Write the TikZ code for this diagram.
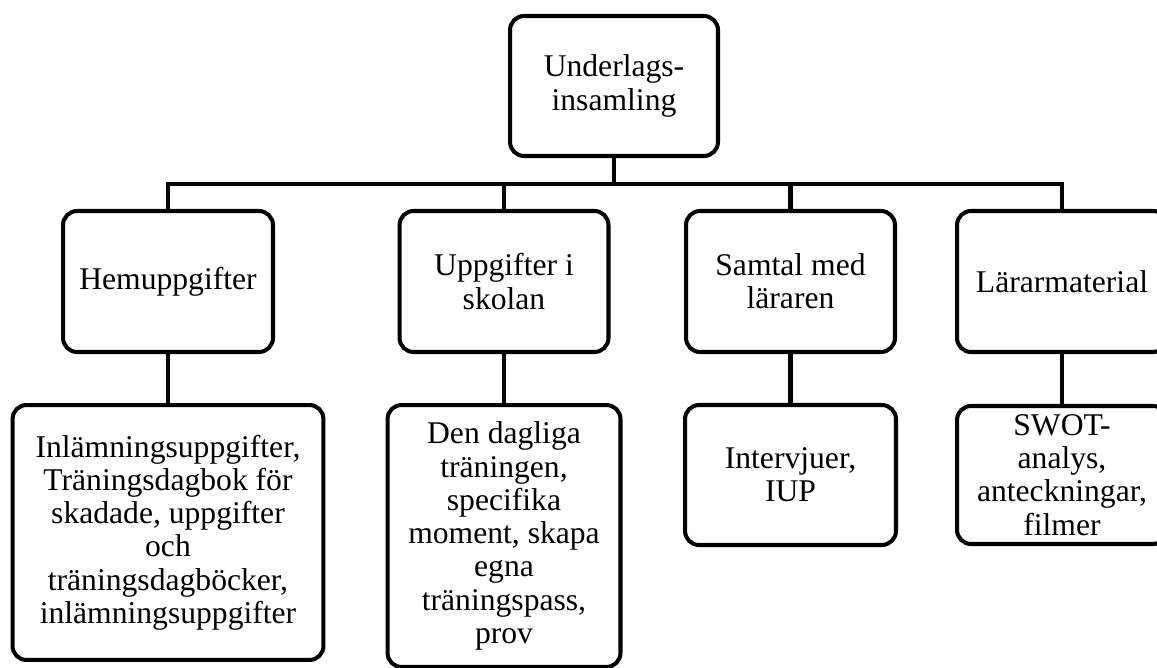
\documentclass[tikz,border=0pt]{standalone}
\usepackage{fontspec}
\setmainfont{Liberation Serif}
\usepackage{tikz}
\usetikzlibrary{positioning,calc}
\newcommand\figfont{\fontsize{18}{18.9}\selectfont}
\tikzset{
  figbox/.style={draw, line width=2.3pt, rounded corners=8pt, align=center,
    font=\figfont, inner sep=2pt},
  figline/.style={line width=2.3pt},
}

\begin{document}
\begin{tikzpicture}[x=0.02cm, y=-0.02cm]
  \useasboundingbox (0,0) rectangle (1157,668);
  \clip (0,0) rectangle (1157,668);
  % topp
  \node[figbox, minimum width=4.16cm, minimum height=2.8cm] (top) at (614,86) {Underlags-\\insamling};
  % andra nivån
  \node[figbox, minimum width=4.2cm, minimum height=2.82cm] (hem) at (168,281.5) {Hemuppgifter};
  \node[figbox, minimum width=4.18cm, minimum height=2.82cm] (upp) at (504,281.5) {Uppgifter i\\skolan};
  \node[figbox, minimum width=4.18cm, minimum height=2.82cm] (sam) at (790.5,281.5) {Samtal med\\läraren};
  \node[figbox, minimum width=4.2cm, minimum height=2.82cm] (lar) at (1062,281.5) {Lärarmaterial};
  % tredje nivån
  \node[figbox, minimum width=6.22cm, minimum height=5.1cm] (hemd) at (168,532.5)
    {Inlämningsuppgifter,\\Träningsdagbok för\\skadade, uppgifter\\och\\träningsdagböcker,\\inlämningsuppgifter};
  \node[figbox, minimum width=4.66cm, minimum height=5.24cm] (uppd) at (504,536)
    {Den dagliga\\träningen,\\specifika\\moment, skapa\\egna\\träningspass,\\prov};
  \node[figbox, minimum width=4.22cm, minimum height=2.8cm] (samd) at (790.5,475) {Intervjuer,\\IUP};
  \node[figbox, minimum width=4.2cm, minimum height=2.76cm] (lard) at (1062,475)
    {SWOT-\\analys,\\anteckningar,\\filmer};
  % linjer
  \coordinate (bus) at (614,184);
  \draw[figline] (top.south) -- (bus);
  \draw[figline] (hem.north) |- (bus) -| (lar.north);
  \draw[figline] (upp.north) -- (upp.north |- bus);
  \draw[figline] (sam.north) -- (sam.north |- bus);
  \draw[figline] (hem.south) -- (hemd.north);
  \draw[figline] (upp.south) -- (uppd.north);
  \draw[figline] (sam.south) -- (samd.north);
  \draw[figline] (lar.south) -- (lard.north);
\end{tikzpicture}
\end{document}
